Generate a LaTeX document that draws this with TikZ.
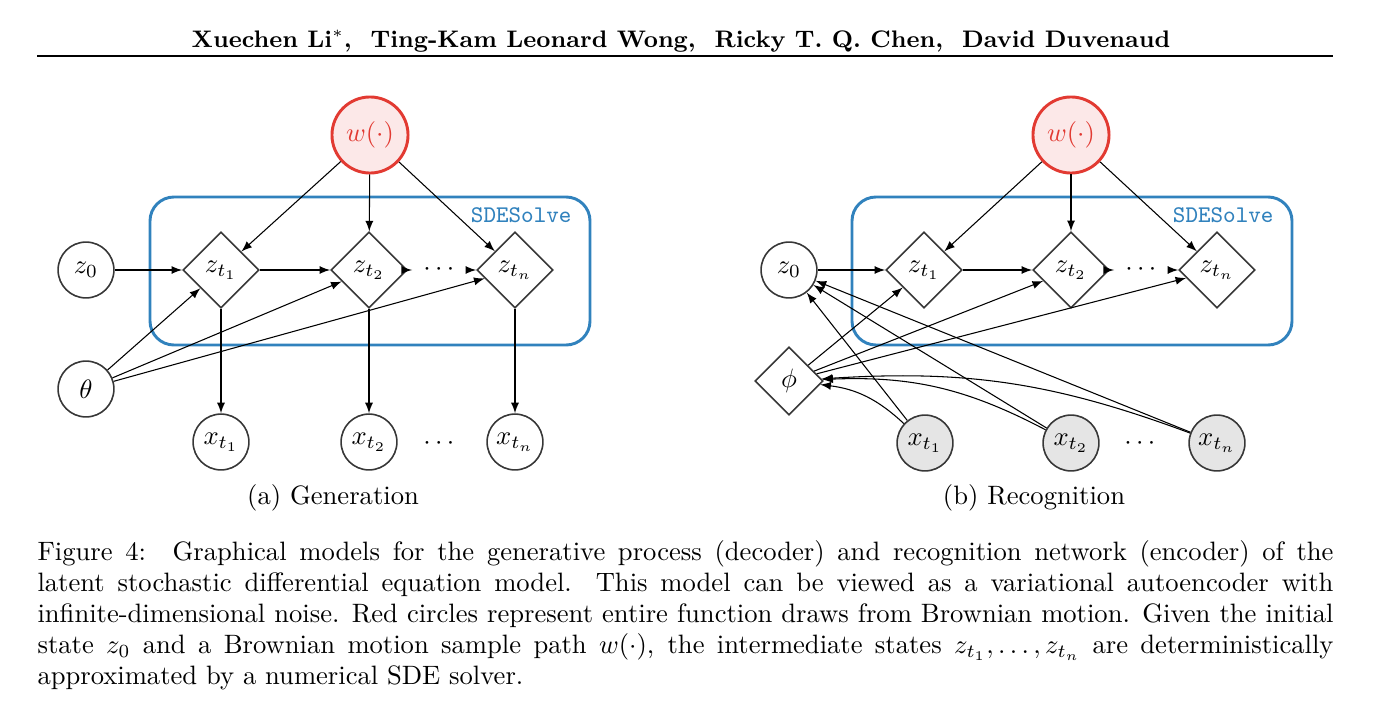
\documentclass[tikz,border=0pt]{standalone}
\usepackage{amsmath,amssymb}
\usepackage{tikz}
\usetikzlibrary{shapes.geometric,arrows}

\definecolor{noisered}{RGB}{226,58,50}
\definecolor{noisepink}{RGB}{252,232,232}
\definecolor{solveblue}{RGB}{49,130,189}
\definecolor{nodegray}{RGB}{55,55,55}

\begin{document}
\begin{tikzpicture}[x=0.376pt,y=-0.376pt,
  latent/.style={circle,draw=nodegray,semithick,minimum size=21pt,inner sep=0pt},
  observed/.style={latent,fill=black!10},
  solver/.style={diamond,aspect=1,draw=nodegray,semithick,minimum size=28.6pt,inner sep=0pt},
  noise/.style={circle,draw=noisered,line width=1.1pt,fill=noisepink,text=noisered,minimum size=28.6pt,inner sep=0pt},
  solvebox/.style={draw=solveblue,line width=1.1pt,rounded corners=9pt},
  solvelabel/.style={anchor=base east,inner sep=0pt,text=solveblue,font=\small\ttfamily},
  dots/.style={inner xsep=4pt,inner ysep=2pt},
  arr/.style={-latex,thin}]
\useasboundingbox (0,0) rectangle (1384,726);

% header
\node[anchor=base,font=\fontsize{9}{11}\selectfont] (head) at (681,48) {\textbf{Xuechen Li$^*$, \ Ting-Kam Leonard Wong, \ Ricky T. Q. Chen, \ David Duvenaud}};
\draw[line width=0.6pt] (37,56) -- (1333,56);

% (a) generation
\draw[solvebox] (150,197) rectangle (590,345);
\node[solvelabel] (solvea) at (572,223) {SDESolve};

\node[noise] (wa) at (370,135) {$w(\cdot)$};
\node[latent] (z0a) at (86,270) {$z_0$};
\node[solver] (z1a) at (221,270) {$z_{t_1}$};
\node[solver] (z2a) at (369,270) {$z_{t_2}$};
\node[dots] (zda) at (441,270) {$\cdots$};
\node[solver] (zna) at (515,270) {$z_{t_n}$};
\node[latent] (theta) at (86,389) {$\theta$};
\node[latent] (x1a) at (221,442) {$x_{t_1}$};
\node[latent] (x2a) at (369,442) {$x_{t_2}$};
\node (xda) at (441,444) {$\cdots$};
\node[latent] (xna) at (515,442) {$x_{t_n}$};
\node (capa) at (333,498) {(a) Generation};

\draw[arr] (wa) -- (z1a);
\draw[arr] (wa) -- (z2a);
\draw[arr] (wa) -- (zna);
\draw[arr] (z0a) -- (z1a);
\draw[arr] (z1a) -- (z2a);
\draw[arr] (z2a) -- (zda);
\draw[arr] (zda) -- (zna);
\draw[arr] (theta) -- (z1a);
\draw[arr] (theta) -- (z2a);
\draw[arr] (theta) -- (zna);
\draw[arr] (z1a) -- (x1a);
\draw[arr] (z2a) -- (x2a);
\draw[arr] (zna) -- (xna);

% (b) recognition
\draw[solvebox] (852,197) rectangle (1292,345);
\node[solvelabel] (solveb) at (1274,223) {SDESolve};

\node[noise] (wb) at (1071,135) {$w(\cdot)$};
\node[latent] (z0b) at (789,270) {$z_0$};
\node[solver] (z1b) at (924,270) {$z_{t_1}$};
\node[solver] (z2b) at (1071,270) {$z_{t_2}$};
\node[dots] (zdb) at (1143,270) {$\cdots$};
\node[solver] (znb) at (1217,270) {$z_{t_n}$};
\node[solver,minimum size=25.6pt] (phi) at (789,381) {$\phi$};
\node[observed] (x1b) at (925,443) {$x_{t_1}$};
\node[observed] (x2b) at (1071,443) {$x_{t_2}$};
\node (xdb) at (1142,444) {$\cdots$};
\node[observed] (xnb) at (1217,443) {$x_{t_n}$};
\node (capb) at (1034,498) {(b) Recognition};

\draw[arr] (wb) -- (z1b);
\draw[arr] (wb) -- (z2b);
\draw[arr] (wb) -- (znb);
\draw[arr] (z0b) -- (z1b);
\draw[arr] (z1b) -- (z2b);
\draw[arr] (z2b) -- (zdb);
\draw[arr] (zdb) -- (znb);
\draw[arr] (phi) -- (z1b);
\draw[arr] (phi) -- (z2b);
\draw[arr] (phi) -- (znb);
\draw[arr] (x1b) -- (z0b);
\draw[arr] (x2b) -- (z0b);
\draw[arr] (xnb) -- (z0b);
\draw[arr] (x1b) to[bend right=18] (phi);
\draw[arr] (x2b) to[bend right=15] (phi);
\draw[arr] (xnb) to[bend right=12] (phi);

% caption
\node[anchor=north west,inner sep=0pt,text width=487.3pt,align=justify,font=\fontsize{10}{11.66}\selectfont] (caption) at (37,540)
{Figure 4:\quad Graphical models for the generative process (decoder) and recognition network (encoder) of the\linebreak
latent stochastic differential equation model. This model can be viewed as a variational autoencoder with\linebreak
infinite-dimensional noise. Red circles represent entire function draws from Brownian motion. Given the initial\linebreak
state $z_0$ and a Brownian motion sample path $w(\cdot)$, the intermediate states $z_{t_1},\dots,z_{t_n}$ are deterministically\linebreak
approximated by a numerical SDE solver.};
\end{tikzpicture}
\end{document}
